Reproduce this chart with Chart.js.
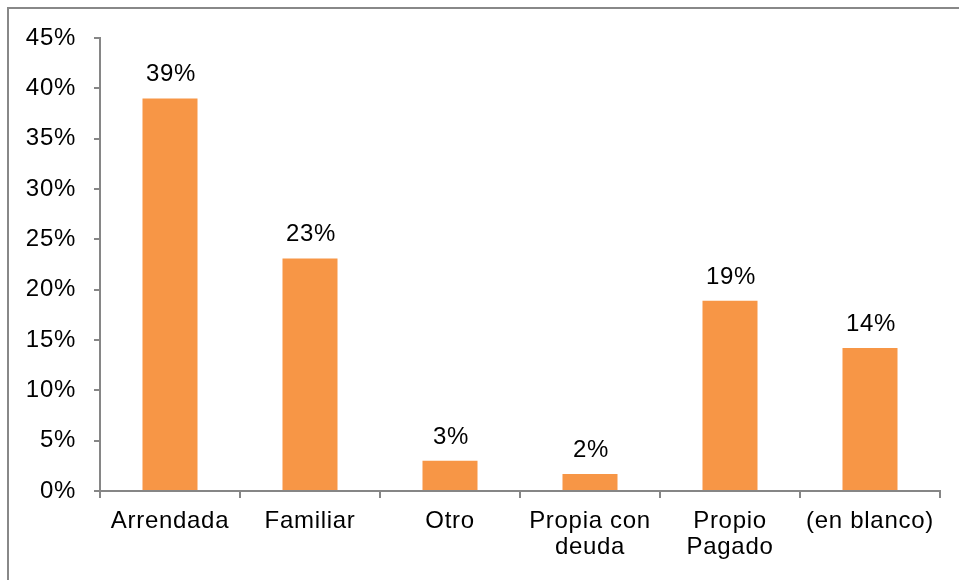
<!DOCTYPE html>
<html>
<head>
<meta charset="utf-8">
<script src="https://cdn.jsdelivr.net/npm/chart.js@4/dist/chart.umd.min.js"></script>
<style>
  html, body { margin: 0; padding: 0; background: #fff; }
  #wrap { position: relative; width: 959px; height: 580px; overflow: hidden; }
</style>
</head>
<body>
<div id="wrap"><canvas id="c" width="959" height="580"></canvas></div>
<script>
const categories = ['Arrendada', 'Familiar', 'Otro', ['Propia con', 'deuda'], ['Propio', 'Pagado'], '(en blanco)'];
const values = [39.0, 23.1, 3.0, 1.7, 18.9, 14.2];
const valueLabels = ['39%', '23%', '3%', '2%', '19%', '14%'];
const yMax = 45;
const yStep = 5;

const FONT = "'Liberation Sans', Arial, sans-serif";
const AXIS = '#868686';

const frame = {
  id: 'frame',
  beforeDraw(chart) {
    const ctx = chart.ctx;
    ctx.save();
    ctx.fillStyle = '#fff';
    ctx.fillRect(0, 0, chart.width, chart.height);
    ctx.strokeStyle = '#888888';
    ctx.lineWidth = 2;
    ctx.strokeRect(8, 8, chart.width + 20, chart.height + 20);
    ctx.restore();
    ctx.letterSpacing = '0.7px';
  }
};

const barLabels = {
  id: 'barLabels',
  afterDatasetsDraw(chart) {
    const ctx = chart.ctx;
    const meta = chart.getDatasetMeta(0);
    ctx.save();
    ctx.font = '24px ' + FONT;
    ctx.letterSpacing = '0.7px';
    ctx.fillStyle = '#000';
    ctx.textAlign = 'center';
    ctx.textBaseline = 'alphabetic';
    meta.data.forEach((bar, i) => {
      ctx.fillText(valueLabels[i], bar.x + 1, bar.y - 17);
    });
    ctx.restore();
  }
};

new Chart(document.getElementById('c'), {
  type: 'bar',
  data: {
    labels: categories,
    datasets: [{
      data: values,
      backgroundColor: '#F79646',
      borderWidth: 0,
      barPercentage: 0.393,
      categoryPercentage: 1.0
    }]
  },
  options: {
    responsive: false,
    animation: false,
    devicePixelRatio: 1,
    layout: { padding: { left: 8, top: 38, right: 19, bottom: 0 } },
    plugins: { legend: { display: false }, tooltip: { enabled: false } },
    scales: {
      x: {
        afterFit(scale) { scale.height = 89; },
        grid: {
          offset: true,
          drawOnChartArea: false,
          drawTicks: true,
          tickLength: 7,
          color: AXIS,
          lineWidth: 2
        },
        border: { color: AXIS, width: 2 },
        ticks: {
          color: '#000',
          font: { family: FONT, size: 24, lineHeight: 1.1 },
          padding: 10,
          maxRotation: 0,
          autoSkip: false
        }
      },
      y: {
        min: 0,
        max: yMax,
        afterFit(scale) { scale.width = 92; },
        grid: {
          drawOnChartArea: false,
          drawTicks: true,
          tickLength: 6,
          color: AXIS,
          lineWidth: 2
        },
        border: { color: AXIS, width: 2 },
        ticks: {
          stepSize: yStep,
          color: '#000',
          font: { family: FONT, size: 24 },
          padding: 18,
          callback: v => v + '%'
        }
      }
    }
  },
  plugins: [frame, barLabels]
});
</script>
</body>
</html>
